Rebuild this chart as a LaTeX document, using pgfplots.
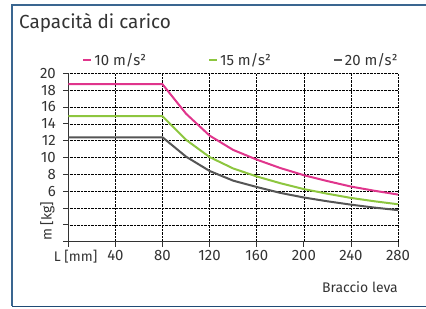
\documentclass[border=0pt]{standalone}
\usepackage{pgfplots}
\pgfplotsset{compat=1.18}
\usepackage{fontspec}
\setmainfont{Fira Sans}
\definecolor{cmag}{HTML}{E0358C}
\definecolor{cgreen}{HTML}{8DC63F}
\definecolor{cgray}{HTML}{555555}
\definecolor{frameblue}{HTML}{3A6690}
\definecolor{framedark}{HTML}{1F4A75}
\definecolor{txt}{HTML}{333333}
\begin{document}
\begin{tikzpicture}
\useasboundingbox (0,0) rectangle (426bp,309bp);
\draw[frameblue, line width=1.5bp] (427bp,304bp) -- (12bp,304bp) -- (12bp,2.5bp);
\draw[framedark, line width=1.5bp] (12bp,2.5bp) -- (427bp,2.5bp);
\node[anchor=base west, font=\fontsize{19}{22}\selectfont, text=txt, inner sep=0] at (19bp,280.7bp) {Capacità di carico};
\begin{axis}[
 at={(68.3bp,67.3bp)}, anchor=south west,
 scale only axis, width=329.7bp, height=168.4bp,
 xmin=0, xmax=280, ymin=0, ymax=20,
 axis lines=left, axis line style={-, draw=txt, line width=0.8bp},
 xtick={0,40,...,280}, xticklabels={,40,80,120,160,200,240,280},
 ytick={0,2,...,20}, yticklabels={,,,6,8,10,12,14,16,18,20},
 tick align=outside, major tick length=5bp,
 tick style={draw=txt, line width=0.8bp},
 grid=major, major grid style={densely dotted, black, line width=0.6bp},
 ticklabel style={font=\fontsize{15}{17}\selectfont, text=txt},
 yticklabel style={xshift=-4bp},
 /pgf/number format/assume math mode=true,
 xlabel={L [mm]},
 xlabel style={at={(axis description cs:0.022,0)}, anchor=base, yshift=-20bp, font=\fontsize{14}{16}\selectfont, text=txt},
 ylabel={m [kg]},
 ylabel style={at={([xshift=-21bp]axis description cs:0,0.12)}, anchor=center, font=\fontsize{14}{16}\selectfont, text=txt},
 legend columns=3,
 legend style={draw=none, fill=none, at={(axis description cs:0.042,1)}, anchor=west, yshift=13bp,
   font=\fontsize{15}{17}\selectfont, text=txt, inner sep=0pt,
   /tikz/every even column/.append style={column sep=60bp}},
 legend image code/.code={\draw[#1, line width=2bp] (0bp,0bp) -- (8bp,0bp);},
 clip=false,
]
\addplot[cmag, line width=2bp] coordinates {(0,18.7) (80,18.7) (100,15.2) (120,12.6) (140,10.9) (160,9.75) (180,8.75) (200,7.9) (220,7.2) (240,6.55) (260,6.05) (280,5.6)};
\addlegendentry{10 m/s²}
\addplot[cgreen, line width=2bp] coordinates {(0,14.9) (80,14.9) (100,12.1) (120,10.05) (140,8.7) (160,7.75) (180,6.95) (200,6.25) (220,5.7) (240,5.2) (260,4.8) (280,4.45)};
\addlegendentry{15 m/s²}
\addplot[cgray, line width=2bp] coordinates {(0,12.4) (80,12.4) (100,10.1) (120,8.4) (140,7.25) (160,6.5) (180,5.8) (200,5.25) (220,4.8) (240,4.4) (260,4.05) (280,3.75)};
\addlegendentry{20 m/s²}
\node[anchor=base east, font=\fontsize{14}{16}\selectfont, text=txt, inner sep=0] at ([yshift=-51bp]rel axis cs:1,0) {Braccio leva};
\end{axis}
\end{tikzpicture}
\end{document}
